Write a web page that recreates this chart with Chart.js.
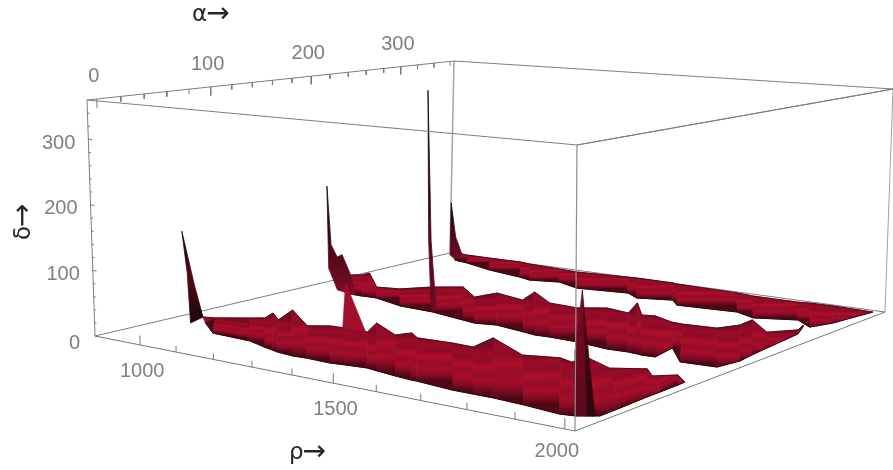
<!DOCTYPE html>
<html>
<head>
<meta charset="utf-8">
<style>
  body { margin: 0; background: #fff; }
  #plot { display: block; filter: blur(0.45px); }
</style>
<script src="https://cdn.jsdelivr.net/npm/chart.js@4"></script>
</head>
<body>
<canvas id="plot" width="893" height="470"></canvas>
<script>
const rhoTicks = [1000, 1100, 1200, 1300, 1400, 1500, 1600, 1700, 1800, 1900, 2000];
const alphaTicks = [0, 20, 40, 60, 80, 100, 120, 140, 160, 180, 200, 220, 240, 260, 280, 300, 320, 340, 360];
const deltaTicks = [0, 20, 40, 60, 80, 100, 120, 140, 160, 180, 200, 220, 240, 260, 280, 300, 320, 340];
const rhoLabels = [1000, 1500, 2000];
const alphaLabels = [0, 100, 200, 300];
const deltaLabels = [0, 100, 200, 300];
const rhoRange = [870, 2020];
const alphaRange = [-8, 365];
const deltaRange = [0, 360];

// ridge outlines: the far and the near rim of each sheet
const frontTopRho = [915,941,1000,1024,1004,1059,1017,1145,1183,1219,1279,1241,1341,1356,1392,1476,1528,1512,1643,1713,1749,1755,1831,1889,1925,1958,1995];
const frontTopAlpha = [75,78,92,98,113,99,128,97,106,107,107,131,111,122,113,115,114,142,115,123,118,133,119,131,118,129,117];
const frontBaseRho = [959,1039,1147,1207,1236,1255,1301,1333,1394,1427,1474,1504,1554,1597,1609,1700,1745,1789,1858,1941,1968,2001,2000,1997,1997,1996,1995];
const frontBaseAlpha = [63,44,42,35,32,30,28,29,28,30,32,30,27,25,25,21,21,21,19,15,17,25,46,75,89,109,117];
const midTopRho = [850,881,880,1000,1055,1098,1154,1242,1255,1344,1315,1409,1484,1535,1598,1558,1631,1658,1716,1744,1818,1841,1837,1916,1956,1943];
const midTopAlpha = [245,253,262,224,229,248,262,238,259,250,278,253,251,263,258,290,258,261,251,250,253,270,289,262,280,295];
const midBaseRho = [987,1038,1059,1078,1172,1264,1364,1401,1448,1528,1563,1596,1664,1743,1788,1811,1823,1851,1838,1909,1984,1994,1988,1983,1973,1951];
const midBaseAlpha = [194,193,194,194,183,181,173,170,174,168,165,166,165,160,161,160,159,160,187,158,160,182,200,222,269,290];
const backTopRho = [867,920,989,1078,1112,1205,1258,1385,1408,1505,1518,1675,1719,1827,1853,1906,2000];
const backTopAlpha = [370,366,366,367,364,361,359,365,366,366,364,362,359,359,361,362,360];
const backBaseRho = [937,984,1081,1188,1227,1294,1364,1485,1529,1603,1637,1774,1829,1912,1962,1982,2000];
const backBaseAlpha = [343,339,326,317,312,319,308,315,304,313,300,305,295,307,292,312,360];

// spikes standing on the ridges
const spikeA = { rho: [918,923,915,935,931], alpha: [56,65,75,57,56], delta: [143,55,0,0,79] };
const spikeB = { rho: [933,940,950,959,995,1019,951,936], alpha: [194,196,199,201,196,193,199,195], delta: [177,77,56,60,34,0,0,37] };
const spikeC = { rho: [1232,1277,1216], alpha: [103,106,106], delta: [73,0,0] };
const spikeD = { rho: [1242,1245,1256,1252,1249], alpha: [183,184,183,190,185], delta: [356,113,0,0,113] };
const spikeE = { rho: [911,922,902,939,887], alpha: [348,350,367,344,358], delta: [102,39,0,0,0] };
const spikeF = { rho: [1976,1967,1968,1984], alpha: [19,17,17,21], delta: [163,85,0,0] };
const spikeG = { rho: [1976,1984,1995], alpha: [19,21,23], delta: [163,0,0] };

// camera: where the corners of the box land on the page
const floorCorners = [[95,336],[575,431],[450,253],[885,312]];
const roofCorners = [[87,100],[577,145],[454,61],[893,89]];

function homography(p00, p10, p01, p11) {
  const dx1 = p10[0]-p11[0], dx2 = p01[0]-p11[0], sx = p00[0]-p10[0]+p11[0]-p01[0];
  const dy1 = p10[1]-p11[1], dy2 = p01[1]-p11[1], sy = p00[1]-p10[1]+p11[1]-p01[1];
  const den = dx1*dy2-dx2*dy1, g = (sx*dy2-dx2*sy)/den, h = (dx1*sy-sx*dy1)/den;
  const a = p10[0]-p00[0]+g*p10[0], b = p01[0]-p00[0]+h*p01[0];
  const d = p10[1]-p00[1]+g*p10[1], e = p01[1]-p00[1]+h*p01[1];
  return (u, v) => {
    const w = g*u+h*v+1;
    return [(a*u+b*v+p00[0])/w, (d*u+e*v+p00[1])/w];
  };
}
const floorMap = homography(...floorCorners);
const roofMap = homography(...roofCorners);

function project(rho, alpha, delta) {
  const u = (rho-rhoRange[0])/(rhoRange[1]-rhoRange[0]);
  const v = (alpha-alphaRange[0])/(alphaRange[1]-alphaRange[0]);
  const w = (delta-deltaRange[0])/(deltaRange[1]-deltaRange[0]);
  const f = floorMap(u, v), t = roofMap(u, v);
  return { x: f[0]+(t[0]-f[0])*w, y: f[1]+(t[1]-f[1])*w };
}

const datasets = [];
function addLine(points, color, width) {
  datasets.push({ data: points, showLine: true, fill: false, borderColor: color, borderWidth: width, pointRadius: 0, spanGaps: false, clip: false });
}

// filled facet with a gradient running from one page point to another
function addFacet(points, from, to, stops, lineWidth) {
  const paint = (ctx) => {
    const sx = ctx.chart.scales.x, sy = ctx.chart.scales.y;
    if (!sx || !sy || !ctx.chart.chartArea) return stops[0];
    const x0 = sx.getPixelForValue(from.x), y0 = sy.getPixelForValue(from.y);
    const x1 = sx.getPixelForValue(to.x), y1 = sy.getPixelForValue(to.y);
    if (![x0, y0, x1, y1].every(Number.isFinite)) return stops[0];
    const g = ctx.chart.ctx.createLinearGradient(x0, y0, x1, y1);
    stops.forEach((c, i) => g.addColorStop(i/(stops.length-1), c));
    return g;
  };
  datasets.push({ data: points.concat([points[0]]), showLine: true, fill: 'shape', backgroundColor: paint, borderColor: paint, borderWidth: lineWidth, pointRadius: 0, tension: 0, clip: false });
}

const sheetShade = ['#7c0a22', '#9a0c28', '#8e0b26', '#ae0e2a', '#960c28', '#a60d2a', '#860b25', '#4e0714'];

function addRidge(topRho, topAlpha, baseRho, baseAlpha) {
  const top = topRho.map((r, i) => project(r, topAlpha[i], 0));
  const base = baseRho.map((r, i) => project(r, baseAlpha[i], 0));
  for (let i = 0; i < top.length-1; i++) {
    addFacet([top[i], top[i+1], base[i+1], base[i]], top[i], base[i], sheetShade, 0.8);
  }
  addLine(top, '#3c0712', 0.8);
  addLine(base, '#2e050e', 1);
}

function addSpike(spike, stops, lineWidth) {
  const pts = spike.rho.map((r, i) => project(r, spike.alpha[i], spike.delta[i]));
  const ys = pts.map(p => p.y);
  const high = pts[ys.indexOf(Math.min(...ys))], low = pts[ys.indexOf(Math.max(...ys))];
  addFacet(pts, high, { x: high.x, y: low.y }, stops, lineWidth);
}

const gap = { x: NaN, y: NaN };
function box(r, a, d) { return project(r, alphaRange[a], deltaRange[d]); }
const rLo = rhoRange[0], rHi = rhoRange[1];

// back of the box, behind the surface
addLine([box(rLo,0,0), box(rLo,1,0), box(rHi,1,0)], '#7d7d7d', 1);
addLine([box(rLo,1,0), box(rLo,1,1)], '#a9a9a9', 1.6);
addLine([box(rHi,1,0), box(rHi,1,1)], '#a0a0a0', 1);
addLine([box(rLo,0,1), box(rLo,1,1), box(rHi,1,1), box(rHi,0,1)], '#7d7d7d', 1);

addRidge(backTopRho, backTopAlpha, backBaseRho, backBaseAlpha);
addSpike(spikeE, ['#16040a', '#4a0816', '#6d0b22'], 0.8);
addRidge(midTopRho, midTopAlpha, midBaseRho, midBaseAlpha);
addSpike(spikeB, ['#12040a', '#3f0712', '#800c26'], 0.8);
addSpike(spikeD, ['#0a0206', '#1a0409', '#520917', '#6c0b22'], 0.8);
addRidge(frontTopRho, frontTopAlpha, frontBaseRho, frontBaseAlpha);
addSpike(spikeA, ['#16040a', '#520917', '#1c040a'], 0.8);
addSpike(spikeC, ['#a00e2a', '#a00e2a'], 0.6);
addSpike(spikeF, ['#760a25', '#5a091e'], 0.6);
addSpike(spikeG, ['#520817', '#30050c'], 0.6);

// front of the box and the tick marks
addLine([box(rHi,0,0), box(rHi,0,1)], '#8f8f8f', 1.2);
addLine([box(rLo,0,0), box(rHi,0,0), box(rHi,1,0)], '#6f7a78', 1);
addLine([box(rLo,0,0), box(rLo,0,1), box(rHi,0,1), box(rHi,1,1)], '#7d7d7d', 1);

const tickMarks = [];
rhoTicks.forEach(r => tickMarks.push(project(r, alphaRange[0], 0), project(r, alphaRange[0], rhoLabels.includes(r) ? 14 : 9), gap));
alphaTicks.forEach(a => tickMarks.push(project(rLo, a, deltaRange[1]), project(rLo, a, deltaRange[1]-(alphaLabels.includes(a) ? 14 : 8)), gap));
deltaTicks.forEach(d => tickMarks.push(project(rLo, alphaRange[0], d), project(rLo+(deltaLabels.includes(d) ? 11 : 6), alphaRange[0], d), gap));
addLine(tickMarks, '#777', 1);

datasets.forEach((d, i) => { d.order = datasets.length-i; });

const textLayer = {
  id: 'textLayer',
  afterDraw(chart) {
    const c = chart.ctx, sx = chart.scales.x, sy = chart.scales.y;
    const put = (s, p, dx, dy, align) => {
      c.textAlign = align;
      c.fillText(s, sx.getPixelForValue(p.x)+dx, sy.getPixelForValue(p.y)+dy);
    };
    // axis title: greek letter then a large arrow, reads left to right from x
    const title = (letter, x, y) => {
      c.textAlign = 'left';
      c.font = '23px "DejaVu Sans"';
      c.fillText(letter, x, y);
      const w = c.measureText(letter).width;
      c.font = '28px "DejaVu Sans"';
      c.fillText('→', x+w-1, y);
    };
    c.save();
    c.textBaseline = 'middle';
    c.font = '20px "Liberation Sans"';
    c.fillStyle = '#7f7f7f';
    rhoLabels.forEach(r => put(String(r), project(r, alphaRange[0], 0), r === 2000 ? -8 : 2, r === 2000 ? 23 : 26.5, 'center'));
    alphaLabels.forEach(a => put(String(a), project(rLo, a, deltaRange[1]), -3, -22.5, 'center'));
    deltaLabels.forEach(d => put(String(d), project(rLo, alphaRange[0], d), d === 0 ? -15 : -13, d === 0 ? 7 : 4, 'right'));

    c.fillStyle = '#262626';
    title('α', 192, 15);
    title('ρ', 289, 453);
    c.translate(24, 240);
    c.rotate(-Math.PI/2);
    title('δ', 0, 0);
    c.restore();
  }
};

new Chart(document.getElementById('plot'), {
  type: 'scatter',
  data: { datasets: datasets },
  plugins: [textLayer],
  options: {
    responsive: false,
    animation: false,
    layout: { padding: 0 },
    plugins: { legend: { display: false }, tooltip: { enabled: false } },
    scales: {
      x: { type: 'linear', display: false, min: 0, max: 893 },
      y: { type: 'linear', display: false, min: 0, max: 470, reverse: true }
    }
  }
});
</script>
</body>
</html>
